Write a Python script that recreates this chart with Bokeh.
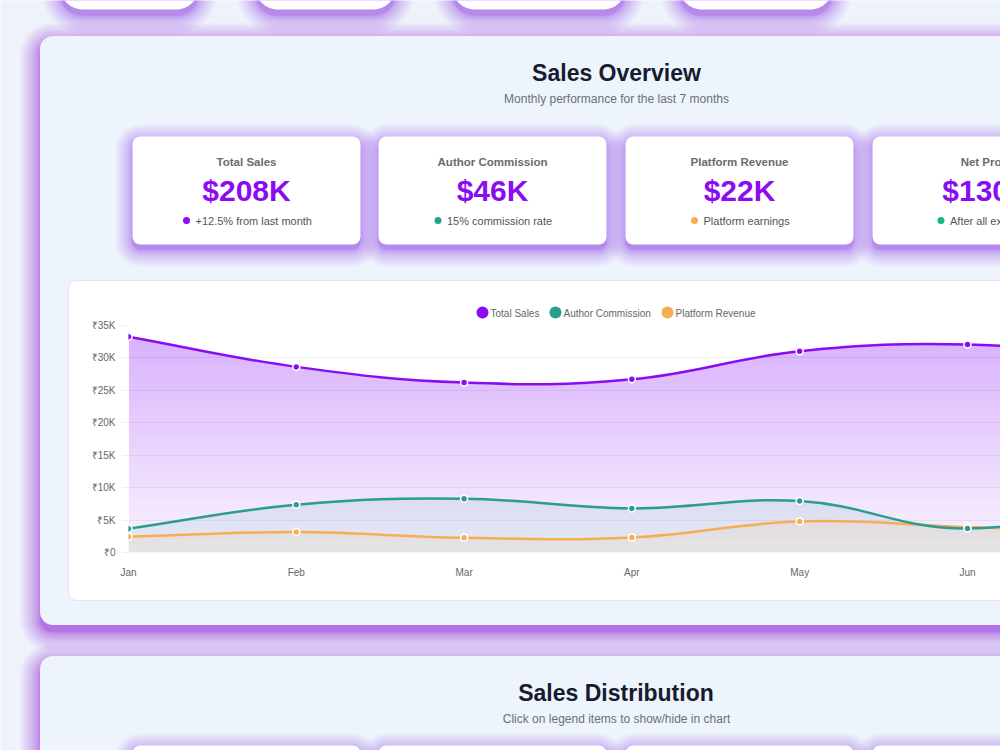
import math
import numpy as np
from bokeh.plotting import figure
from bokeh.models import Range1d, FixedTicker
from bokeh.layouts import column
from bokeh.core.properties import value
from bokeh.embed import file_html
from bokeh.resources import INLINE

# ---------------- data ----------------
months = ["Jan", "Feb", "Mar", "Apr", "May", "Jun", "Jul"]
total_sales = [33.26, 28.62, 26.20, 26.71, 31.03, 32.07, 30.10]        # thousands of rupees
author_commission = [3.66, 7.36, 8.29, 6.80, 7.94, 3.70, 8.50]
platform_revenue = [2.42, 3.15, 2.27, 2.32, 4.79, 3.92, 3.10]
series_names = ["Total Sales", "Author Commission", "Platform Revenue"]

y_ticks = [0, 5, 10, 15, 20, 25, 30, 35]
y_tick_labels = ["₹0", "₹5K", "₹10K", "₹15K", "₹20K", "₹25K", "₹30K", "₹35K"]

kpi_titles = ["Total Sales", "Author Commission", "Platform Revenue", "Net Profit"]
kpi_values = ["$208K", "$46K", "$22K", "$130K"]
kpi_notes = ["+12.5% from last month", "15% commission rate", "Platform earnings", "After all expenses"]

# ---------------- styling ----------------
FONT = value("Liberation Sans")
PURPLE = "#8c0cf2"
TEAL = "#2a9d8f"
ORANGE = "#f6ad55"
GREEN = "#10b981"
SHADOW = "#8a2be2"
PAGE_BG = "#edf2fb"
PANEL_BG = "#eef4fc"
kpi_dot_colors = [PURPLE, TEAL, ORANGE, GREEN]
series_colors = [PURPLE, TEAL, ORANGE]

W, H = 1000, 750

# ---------------- page background (pixel coordinates, y downwards) ----------------
bg = figure(width=W, height=H, x_range=Range1d(0, W), y_range=Range1d(H, 0),
            x_axis_location=None, y_axis_location=None, toolbar_location=None,
            output_backend="svg", min_border=0, outline_line_color=None,
            background_fill_color=PAGE_BG, border_fill_color=PAGE_BG)
bg.grid.visible = False
bg.frame_align = False


def glow(l, t, r, b, radius, reach, alpha, dy, layers=16):
    """Soft purple box shadow: stacked translucent rounded boxes, denser near the edge."""
    for i in range(layers):
        e = reach * (i / (layers - 1)) ** 2
        bg.quad(left=[l - e], right=[r + e], top=[t - e + dy], bottom=[b + e + dy],
                border_radius=int(round(radius + e)), fill_color=SHADOW,
                fill_alpha=alpha, line_color=None)


def card(l, t, r, b, radius, fill, line=None, shadow=None):
    if shadow:
        glow(l, t, r, b, radius, *shadow)
    bg.quad(left=[l], right=[r], top=[t], bottom=[b], border_radius=radius,
            fill_color=fill, line_color=line, line_width=1)


# navigation pills along the top edge
for l, r in [(60, 198), (255, 395), (452, 625), (679, 832)]:
    card(l, -60, r, 9, 22, "white", shadow=(18, 0.045, 6))

# the two section panels
card(40, 36, 1200, 624, 12, PANEL_BG, line="#f4eefe", shadow=(20, 0.055, 7))
card(40, 656, 1200, 1100, 12, PANEL_BG, line="#f4eefe", shadow=(20, 0.055, 7))

# section headers
bg.text(x=[616, 615.5], y=[72, 692], text=["Sales Overview", "Sales Distribution"],
        text_font=FONT, text_font_size="23px", text_font_style="bold",
        text_color="#161b2e", text_align="center", text_baseline="middle")
bg.text(x=[616, 616], y=[98, 718],
        text=["Monthly performance for the last 7 months", "Click on legend items to show/hide in chart"],
        text_font=FONT, text_font_size="12px", text_color="#6b6f7a",
        text_align="center", text_baseline="middle")

# KPI cards
card_lefts = [132, 378, 625, 872]
card_w = 228
dot_offsets = [-60, -54.5, -45, -45.5]
for i, l in enumerate(card_lefts):
    card(l, 136, l + card_w, 244, 8, "white", shadow=(17, 0.045, 5))
    cx = l + card_w / 2
    bg.text(x=[cx], y=[161], text=[kpi_titles[i]], text_font=FONT, text_font_size="11.5px",
            text_font_style="bold", text_color="#6b6b6b", text_align="center", text_baseline="middle")
    bg.text(x=[cx], y=[190], text=[kpi_values[i]], text_font=FONT, text_font_size="30px",
            text_font_style="bold", text_color=PURPLE, text_align="center", text_baseline="middle")
    dx = cx + dot_offsets[i]
    bg.scatter(x=[dx], y=[220], size=7, fill_color=kpi_dot_colors[i], line_color=None)
    bg.text(x=[dx + 9], y=[220], text=[kpi_notes[i]], text_font=FONT, text_font_size="11px",
            text_color="#555555", text_align="left", text_baseline="middle")

# cards of the second section peeking at the bottom
for l in card_lefts:
    card(l, 745, l + card_w, 860, 8, "white", shadow=(17, 0.045, 5))

# chart card
card(68, 280, 1300, 600, 8, "white", line="#eadcfb")

# chart legend
legend_x = [482, 555, 667]
bg.scatter(x=legend_x, y=[312] * 3, size=12, fill_color=series_colors, line_color=None)
bg.text(x=[490, 563, 675], y=[312.5] * 3, text=series_names, text_font=FONT,
        text_font_size="10px", text_color="#666666", text_align="left", text_baseline="middle")

# ---------------- line chart ----------------
PX_PER_MONTH = 167.8
PX_PER_K = 6.477
cf = figure(width=932, height=320, x_range=Range1d(0, 872 / PX_PER_MONTH), y_range=Range1d(0, 35),
            toolbar_location=None, output_backend="svg",
            min_border_left=60, min_border_right=0, min_border_top=45, min_border_bottom=48,
            background_fill_alpha=0, border_fill_alpha=0, outline_line_color=None)
cf.margin = (280 - H, 0, 0, 68)
cf.frame_align = False

cf.xgrid.grid_line_color = None
cf.ygrid.grid_line_color = "#f0f0f0"
cf.ygrid.ticker = FixedTicker(ticks=y_ticks)

cf.yaxis.ticker = FixedTicker(ticks=y_ticks)
cf.yaxis.major_label_overrides = {t: s for t, s in zip(y_ticks, y_tick_labels)}
cf.xaxis.ticker = FixedTicker(ticks=list(range(len(months))))
cf.xaxis.major_label_overrides = {i: m for i, m in enumerate(months)}
for ax in (cf.xaxis, cf.yaxis):
    ax.axis_line_color = None
    ax.minor_tick_line_color = None
    ax.major_label_text_font = "Liberation Sans"
    ax.major_label_text_font_size = "10px"
    ax.major_label_text_color = "#666666"
cf.yaxis.major_tick_line_color = "#f0f0f0"
cf.yaxis.major_tick_out = 6
cf.yaxis.major_tick_in = 0
cf.yaxis.major_label_standoff = 7
cf.xaxis.major_tick_line_color = None
cf.xaxis.major_label_standoff = 8


def spline(vals, tension=0.4):
    """Cubic bezier control points, computed the way Chart.js smooths a line."""
    n = len(vals)
    px = np.arange(n) * PX_PER_MONTH
    py = np.asarray(vals, float) * PX_PER_K
    cprev, cnext = [], []
    for i in range(n):
        a, c = max(i - 1, 0), min(i + 1, n - 1)
        d01 = math.hypot(px[i] - px[a], py[i] - py[a])
        d12 = math.hypot(px[c] - px[i], py[c] - py[i])
        s = d01 + d12
        s01 = d01 / s if s else 0.0
        s12 = d12 / s if s else 0.0
        fa, fb = tension * s01, tension * s12
        cprev.append((px[i] - fa * (px[c] - px[a]), py[i] - fa * (py[c] - py[a])))
        cnext.append((px[i] + fb * (px[c] - px[a]), py[i] + fb * (py[c] - py[a])))
    segs = []
    for i in range(n - 1):
        p0 = (px[i], py[i]); p1 = (px[i + 1], py[i + 1])
        segs.append([(q[0] / PX_PER_MONTH, q[1] / PX_PER_K) for q in (p0, cnext[i], cprev[i + 1], p1)])
    return segs


def sample(segs, steps=30):
    t = np.linspace(0, 1, steps)
    xs, ys = [], []
    for k, (p0, c0, c1, p1) in enumerate(segs):
        tt = t if k == 0 else t[1:]
        m = 1 - tt
        xs.append(m**3 * p0[0] + 3 * m**2 * tt * c0[0] + 3 * m * tt**2 * c1[0] + tt**3 * p1[0])
        ys.append(m**3 * p0[1] + 3 * m**2 * tt * c0[1] + 3 * m * tt**2 * c1[1] + tt**3 * p1[1])
    return np.concatenate(xs), np.concatenate(ys)


all_series = [total_sales, author_commission, platform_revenue]
curves = [spline(v) for v in all_series]

# area under total sales: purple that fades towards the baseline
sx, sy = sample(curves[0])
cf.varea(x=sx, y1=np.zeros_like(sy), y2=sy, fill_color=SHADOW, fill_alpha=0.055)
for level in range(1, 35):
    cf.varea(x=sx, y1=np.minimum(sy, level), y2=sy, fill_color=SHADOW, fill_alpha=0.0075)

# faint fills under the two smaller series
for segs, col in [(curves[1], TEAL), (curves[2], ORANGE)]:
    ax_, ay_ = sample(segs)
    cf.varea(x=ax_, y1=np.zeros_like(ay_), y2=ay_, fill_color=col, fill_alpha=0.1)

# lines and points, last series underneath
for segs, vals, col in reversed(list(zip(curves, all_series, series_colors))):
    cf.bezier(x0=[s[0][0] for s in segs], y0=[s[0][1] for s in segs],
              x1=[s[3][0] for s in segs], y1=[s[3][1] for s in segs],
              cx0=[s[1][0] for s in segs], cy0=[s[1][1] for s in segs],
              cx1=[s[2][0] for s in segs], cy1=[s[2][1] for s in segs],
              line_color=col, line_width=2.5)
for vals, col in reversed(list(zip(all_series, series_colors))):
    cf.scatter(x=list(range(len(vals))), y=vals, size=7, fill_color=col,
               line_color="white", line_width=1.5)

layout = column(bg, cf, spacing=0)
open("out.html", "w").write(file_html(layout, INLINE))
